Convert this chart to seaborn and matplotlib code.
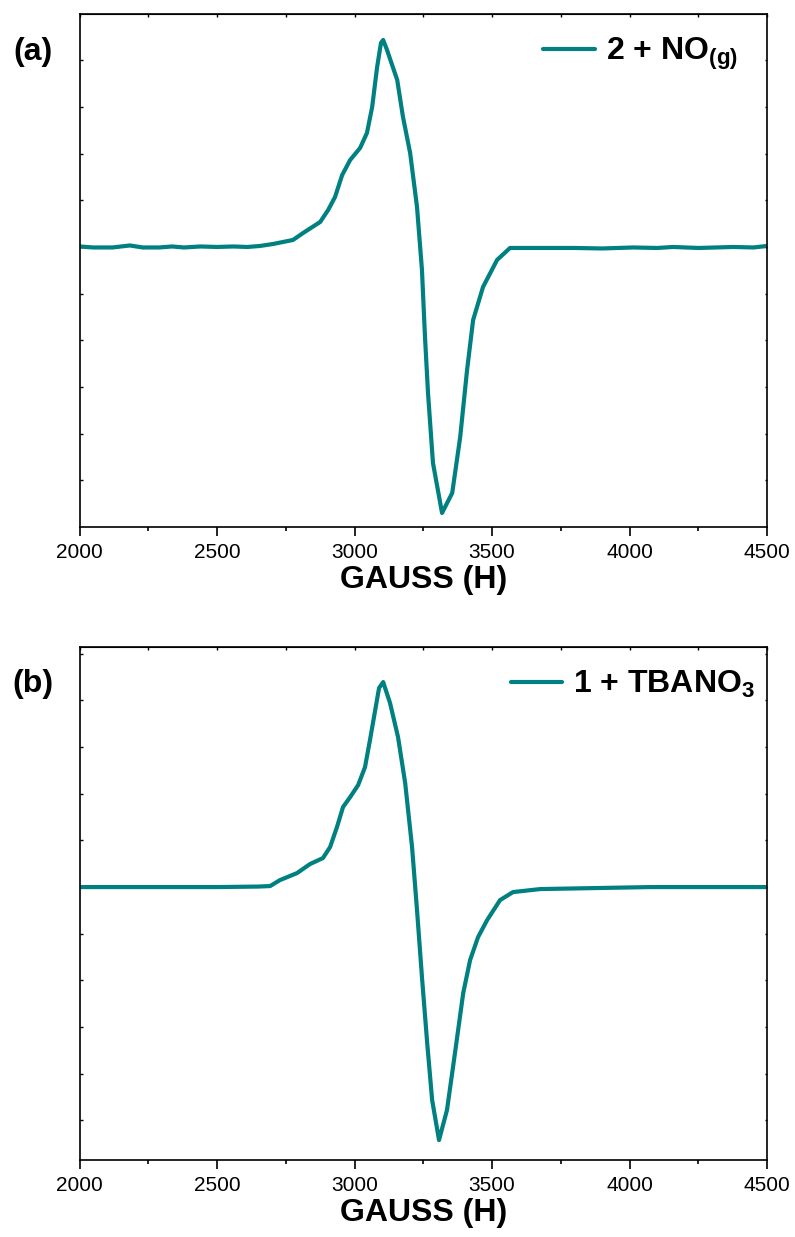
import matplotlib
matplotlib.use("Agg")
import matplotlib.pyplot as plt
from matplotlib.ticker import MultipleLocator
import numpy as np
import pandas as pd
import seaborn as sns

# field (G) and signal (arb. units)
field_a = [2000, 2050, 2120, 2183, 2230, 2290, 2336, 2380, 2440, 2500, 2560, 2610,
           2656, 2704, 2776, 2813, 2875, 2904, 2929, 2955, 2984, 3020, 3045, 3064,
           3082, 3096, 3104, 3118, 3155, 3176, 3202, 3227, 3245, 3256, 3267, 3285,
           3318, 3355, 3384, 3409, 3431, 3467, 3518, 3565, 3650, 3800, 3900, 4013,
           4100, 4158, 4250, 4377, 4450, 4500]
signal_a = [0.5, -0.5, -0.5, 1.5, -0.5, -0.5, 0.5, -0.5, 0.5, 0, 0.5, 0,
            1, 3, 7, 14, 25, 37, 50, 72, 87, 99, 114, 140,
            180, 204, 207, 197, 167, 130, 94, 40, -23, -90, -146, -216,
            -266, -246, -190, -123, -73, -40, -13, -1, -1, -1, -1.5, -0.5,
            -1, 0, -1, 0, -0.5, 1]

field_b = [2000, 2200, 2500, 2650, 2693, 2729, 2791, 2838, 2885, 2911, 2936, 2958,
           2984, 3013, 3038, 3056, 3075, 3089, 3104, 3129, 3158, 3184, 3209, 3227,
           3245, 3264, 3282, 3307, 3336, 3365, 3395, 3420, 3449, 3482, 3529, 3576,
           3675, 4075, 4500]
signal_b = [0, 0, 0, 0.5, 1, 7, 14, 23, 29, 40, 60, 80,
            90, 102, 120, 147, 177, 199, 205, 184, 150, 104, 40, -23,
            -90, -156, -213, -253, -223, -166, -106, -73, -50, -33, -13, -5,
            -2, 0, 0]

labels = [r"2 + NO$_\mathbf{(g)}$", r"1 + TBANO$_\mathbf{3}$"]
panel_tags = ["(a)", "(b)"]
ylims = [(-280, 233), (-273, 240)]

sns.set_style("ticks")
plt.rcParams["font.family"] = ["Liberation Sans", "DejaVu Sans"]
plt.rcParams["mathtext.fontset"] = "custom"
plt.rcParams["mathtext.bf"] = "Liberation Sans:bold"
plt.rcParams["mathtext.rm"] = "Liberation Sans"
for key in ["text.color", "axes.edgecolor", "axes.labelcolor", "xtick.color", "ytick.color"]:
    plt.rcParams[key] = "black"

fig = plt.figure(figsize=(7.95, 12.37), dpi=100)
ax_a = fig.add_axes([0.100, 0.574, 0.865, 0.4147])
ax_b = fig.add_axes([0.100, 0.0622, 0.865, 0.4147])

data = [(field_a, signal_a), (field_b, signal_b)]
anchors = [(0.985, 0.995), (1.01, 0.995)]
teal = "#008080"

for ax, (fx, sy), lab, yl, anc in zip([ax_a, ax_b], data, labels, ylims, anchors):
    df = pd.DataFrame({"field": fx, "signal": sy})
    sns.lineplot(data=df, x="field", y="signal", ax=ax, color=teal,
                 linewidth=3.0, label=lab)
    ax.set_xlim(2000, 4500)
    ax.set_ylim(*yl)
    ax.xaxis.set_major_locator(MultipleLocator(500))
    ax.xaxis.set_minor_locator(MultipleLocator(250))
    ax.yaxis.set_major_locator(MultipleLocator(46.67))
    ax.tick_params(axis="x", which="major", direction="out", length=6.5,
                   width=1.2, labelsize=15, pad=5)
    ax.tick_params(axis="x", which="minor", direction="out", length=3, width=1.2)
    ax.tick_params(axis="y", which="both", direction="in", left=True, right=True,
                   labelleft=False, length=1.8, width=1)
    top = ax.secondary_xaxis("top")
    top.xaxis.set_major_locator(MultipleLocator(250))
    top.tick_params(direction="in", length=1.8, width=1, labeltop=False)
    for s in ax.spines.values():
        s.set_linewidth(1.2)
    ax.set_ylabel("")
    ax.set_xlabel("GAUSS (H)", fontsize=23, fontweight="bold", labelpad=2)
    leg = ax.legend(loc="upper right", frameon=False, fontsize=23,
                    handlelength=1.6, handletextpad=0.35,
                    bbox_to_anchor=anc, borderaxespad=0.2)
    for t in leg.get_texts():
        t.set_fontweight("bold")
    for h in leg.get_lines():
        h.set_linewidth(3.0)

fig.text(0.041, 1 - 52 / 1237, panel_tags[0], fontsize=23, fontweight="bold",
         ha="center", va="center")
fig.text(0.041, 1 - 684 / 1237, panel_tags[1], fontsize=23, fontweight="bold",
         ha="center", va="center")

fig.savefig("out.png", dpi=100)
